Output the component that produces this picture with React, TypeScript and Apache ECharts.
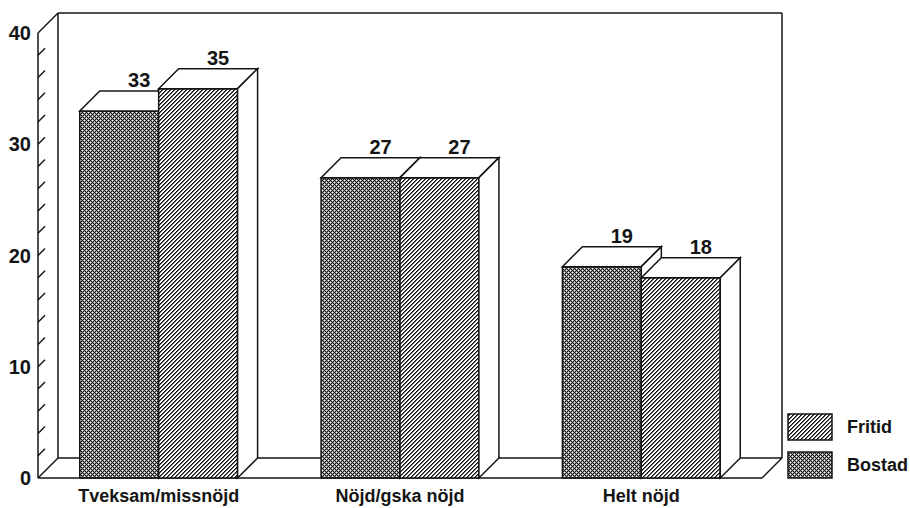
import React, { useEffect, useRef } from 'react';
import * as echarts from 'echarts';

const categories = ['Tveksam/missnöjd', 'Nöjd/gska nöjd', 'Helt nöjd'];
const seriesNames = ['Bostad', 'Fritid'];
const bostadValues = [33, 27, 19];
const fritidValues = [35, 27, 18];
const yMin = 0;
const yMax = 40;
const yInterval = 10;
const minorTickValues = [2, 4, 6, 8, 10, 12, 14, 16, 18, 20, 22, 24, 26, 28, 30, 32, 34, 36, 38];

const DEPTH = 20;
const INK = '#141414';
const FONT = '"Liberation Sans", Arial, Helvetica, sans-serif';

function makeTile(size: number, fn: (x: number, y: number) => number) {
  const c = document.createElement('canvas');
  c.width = size;
  c.height = size;
  const ctx = c.getContext('2d')!;
  const img = ctx.createImageData(size, size);
  for (let y = 0; y < size; y++) {
    for (let x = 0; x < size; x++) {
      const v = fn(x, y);
      const i = (y * size + x) * 4;
      img.data[i] = v;
      img.data[i + 1] = v;
      img.data[i + 2] = v;
      img.data[i + 3] = 255;
    }
  }
  ctx.putImageData(img, 0, 0);
  return { image: c, repeat: 'repeat', imageWidth: size, imageHeight: size } as any;
}

export default function App() {
  const ref = useRef<HTMLDivElement>(null);
  useEffect(() => {
    if (!ref.current) return;
    const chart = echarts.init(ref.current, null, { renderer: 'svg' });

    const hatch = makeTile(4, (x, y) => {
      const k = (x + y) % 4;
      return k === 3 ? 15 : k === 0 ? 95 : 255;
    });
    const cross = makeTile(4, (x, y) => {
      if ((x === 0 && y === 0) || (x === 2 && y === 2)) return 255;
      if ((x + y) % 2 === 1) return 150;
      return 25;
    });
    const patterns = [cross, hatch];

    const lineStyle = { stroke: INK, lineWidth: 1.5 };

    const frameRender = (params: any, api: any) => {
      const cs = params.coordSys;
      const x0 = cs.x;
      const x1 = cs.x + cs.width;
      const yB = api.coord([0, yMin])[1];
      const yT = api.coord([0, yMax])[1];
      const D = DEPTH;
      const seg = (a: number[], b: number[]) => ({
        type: 'line',
        shape: { x1: a[0], y1: a[1], x2: b[0], y2: b[1] },
        style: lineStyle,
      });
      return {
        type: 'group',
        children: [
          seg([x0, yB], [x0, yT]),
          seg([x0, yT], [x0 + D, yT - D]),
          seg([x0 + D, yT - D], [x1 + D, yT - D]),
          seg([x1 + D, yT - D], [x1 + D, yB - D]),
          seg([x0 + D, yT - D], [x0 + D, yB - D]),
          seg([x0 + D, yB - D], [x1 + D, yB - D]),
          seg([x0, yB], [x0 + D, yB - D]),
          seg([x0, yB], [x1, yB]),
          seg([x1, yB], [x1 + D, yB - D]),
        ],
      };
    };

    const tickRender = (params: any, api: any) => {
      const cs = params.coordSys;
      const x0 = cs.x;
      const y = api.coord([0, api.value(0)])[1];
      return {
        type: 'line',
        shape: { x1: x0, y1: y, x2: x0 + 7, y2: y - 7 },
        style: lineStyle,
      };
    };

    const barRender = (sIdx: number) => (params: any, api: any) => {
      const cat = api.value(0);
      const val = api.value(1);
      const band = api.size([1, 0])[0];
      const barW = band * 0.327;
      const center = api.coord([cat, 0])[0];
      const left = center - barW + sIdx * barW;
      const right = left + barW;
      const yTop = api.coord([cat, val])[1];
      const yBot = api.coord([cat, 0])[1];
      const D = DEPTH;
      return {
        type: 'group',
        children: [
          {
            type: 'polygon',
            shape: { points: [[left, yTop], [right, yTop], [right, yBot], [left, yBot]] },
            style: { fill: patterns[sIdx], stroke: INK, lineWidth: 1.5 },
          },
          {
            type: 'polygon',
            shape: { points: [[left, yTop], [right, yTop], [right + D, yTop - D], [left + D, yTop - D]] },
            style: { fill: '#ffffff', stroke: INK, lineWidth: 1.5 },
          },
          {
            type: 'polygon',
            shape: { points: [[right, yTop], [right + D, yTop - D], [right + D, yBot - D], [right, yBot]] },
            style: { fill: '#ffffff', stroke: INK, lineWidth: 1.5 },
          },
          {
            type: 'text',
            x: (left + right) / 2 + D,
            y: yTop - D - 11,
            style: {
              text: String(val),
              fill: INK,
              fontSize: 20,
              fontWeight: 'bold',
              fontFamily: FONT,
              align: 'center',
              verticalAlign: 'middle',
              textAlign: 'center',
              textVerticalAlign: 'middle',
            },
          },
        ],
      };
    };

    const bostadData = bostadValues.map((v, i) => [i, v]);
    const fritidData = fritidValues.map((v, i) => [i, v]);

    const legendItems = [
      { name: seriesNames[1], pattern: hatch, y: 414 },
      { name: seriesNames[0], pattern: cross, y: 452 },
    ];

    chart.setOption({
      animation: false,
      backgroundColor: '#ffffff',
      grid: { left: 38, right: 148, top: 33, bottom: 30, containLabel: false },
      xAxis: {
        type: 'category',
        data: categories,
        axisLine: { show: false },
        axisTick: { show: false },
        splitLine: { show: false },
        axisLabel: {
          color: INK,
          fontSize: 18,
          fontWeight: 'bold',
          fontFamily: FONT,
          margin: 9,
          interval: 0,
        },
      },
      yAxis: {
        type: 'value',
        min: yMin,
        max: yMax,
        interval: yInterval,
        axisLine: { show: false },
        axisTick: { show: false },
        splitLine: { show: false },
        axisLabel: {
          color: INK,
          fontSize: 20,
          fontWeight: 'bold',
          fontFamily: FONT,
          margin: 7,
        },
      },
      series: [
        {
          type: 'custom',
          name: 'frame',
          renderItem: frameRender,
          data: [[0, 0]],
          encode: { x: 0, y: 1 },
          silent: true,
          z: 1,
        },
        {
          type: 'custom',
          name: 'ticks',
          renderItem: tickRender,
          data: minorTickValues.map((v) => [v]),
          encode: { y: 0 },
          silent: true,
          z: 1,
        },
        {
          type: 'custom',
          name: seriesNames[0],
          renderItem: barRender(0),
          data: bostadData,
          encode: { x: 0, y: 1 },
          z: 2,
        },
        {
          type: 'custom',
          name: seriesNames[1],
          renderItem: barRender(1),
          data: fritidData,
          encode: { x: 0, y: 1 },
          z: 3,
        },
      ],
      graphic: legendItems.flatMap((it) => [
        {
          type: 'rect',
          shape: { x: 788, y: it.y, width: 44, height: 26 },
          style: { fill: it.pattern, stroke: INK, lineWidth: 1.5 },
        },
        {
          type: 'text',
          x: 847,
          y: it.y + 13,
          style: {
            text: it.name,
            fill: INK,
            fontSize: 18,
            fontWeight: 'bold',
            fontFamily: FONT,
            align: 'left',
            verticalAlign: 'middle',
            textAlign: 'left',
            textVerticalAlign: 'middle',
          },
        },
      ]),
    });

    return () => chart.dispose();
  }, []);

  return (
    <div
      ref={ref}
      style={{ position: 'absolute', left: 0, top: 0, width: 910, height: 508, background: '#fff' }}
    />
  );
}
